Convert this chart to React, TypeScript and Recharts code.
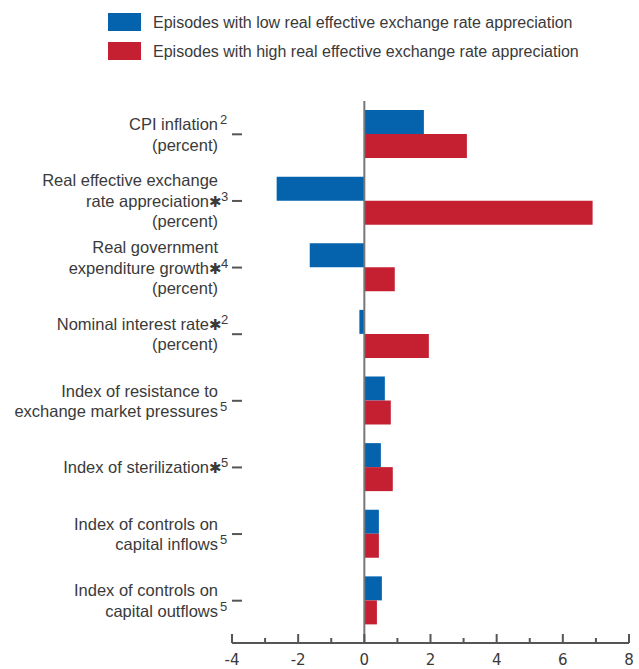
import { useEffect } from 'react';
import { BarChart, Bar, XAxis, YAxis, ReferenceLine } from 'recharts';

// category labels, split into lines as in the figure
const categoryLines = [
  ['CPI inflation', '(percent)'],
  ['Real effective exchange', 'rate appreciation', '(percent)'],
  ['Real government', 'expenditure growth', '(percent)'],
  ['Nominal interest rate', '(percent)'],
  ['Index of resistance to', 'exchange market pressures'],
  ['Index of sterilization'],
  ['Index of controls on', 'capital inflows'],
  ['Index of controls on', 'capital outflows'],
];
// which line carries the footnote marks
const markLine = [0, 1, 1, 0, 1, 0, 1, 1];
const starred = [false, true, true, true, false, true, false, false];
const footnotes = ['2', '3', '4', '2', '5', '5', '5', '5'];

const lowAppreciation = [1.8, -2.65, -1.65, -0.15, 0.62, 0.5, 0.44, 0.53];
const highAppreciation = [3.1, 6.9, 0.92, 1.95, 0.8, 0.86, 0.44, 0.38];

const seriesNames = [
  'Episodes with low real effective exchange rate appreciation',
  'Episodes with high real effective exchange rate appreciation',
];
const xTicks = [-4, -3, -2, -1, 0, 1, 2, 3, 4, 5, 6, 7, 8];

const BLUE = '#0563ae';
const RED = '#c42032';
const TEXT = '#3a3a3a';
const FONT = "'Liberation Sans', Arial, sans-serif";

const data = categoryLines.map((lines, i) => ({
  name: lines.join(' '),
  low: lowAppreciation[i],
  high: highAppreciation[i],
}));

function CategoryTick(props: any) {
  const { x, y, payload } = props;
  const i = data.findIndex((d) => d.name === payload.value);
  const lines = categoryLines[i];
  const lh = 20.5;
  const startY = y - ((lines.length - 1) * lh) / 2;
  const textEnd = x - 14;
  return (
    <g>
      <line x1={x} x2={x + 10} y1={y} y2={y} stroke="#555" strokeWidth={2} />
      {lines.map((ln, k) => {
        const ly = startY + k * lh + 6;
        const hasMark = k === markLine[i];
        const end = hasMark && starred[i] ? textEnd - 9 : textEnd;
        return (
          <g key={k}>
            <text x={end} y={ly} textAnchor="end" fontSize={16.5} fill={TEXT} fontFamily={FONT}>
              {ln}
            </text>
            {hasMark && starred[i] && (
              <text x={end} y={ly} textAnchor="start" fontSize={15} fill={TEXT} fontFamily="'DejaVu Sans', sans-serif">
                ✱
              </text>
            )}
            {hasMark && (
              <text x={starred[i] ? end + 12 : end + 2} y={ly - 6} textAnchor="start" fontSize={13} fill={TEXT} fontFamily={FONT}>
                {footnotes[i]}
              </text>
            )}
          </g>
        );
      })}
    </g>
  );
}

function ValueTick(props: any) {
  const { x, y, payload } = props;
  const v = payload.value;
  const major = v % 2 === 0;
  return (
    <g>
      <line x1={x} x2={x} y1={y} y2={y - (major ? 9 : 5)} stroke="#555" strokeWidth={2} />
      {major && (
        <text x={x} y={y + 22} textAnchor="middle" fontSize={15} fill={TEXT} fontFamily="'DejaVu Sans', sans-serif">
          {v}
        </text>
      )}
    </g>
  );
}

function LegendBox() {
  return (
    <svg width={639} height={70} style={{ position: 'absolute', top: 0, left: 0 }}>
      {[BLUE, RED].map((c, i) => (
        <g key={i}>
          <rect x={108} y={13 + i * 29} width={33} height={18} fill={c} />
          <text x={153} y={28 + i * 29} fontSize={16} fill={TEXT} fontFamily={FONT}>
            {seriesNames[i]}
          </text>
        </g>
      ))}
    </svg>
  );
}

export default function App() {
  useEffect(() => {
    document.body.style.margin = '0';
  }, []);
  return (
    <div style={{ position: 'relative', width: 639, height: 669, background: '#fff' }}>
      <BarChart
        width={639}
        height={669}
        data={data}
        layout="vertical"
        margin={{ top: 101, right: 10, bottom: 0, left: 0 }}
        barSize={24}
        barGap={0}
      >
        <XAxis
          type="number"
          domain={[-4, 8]}
          ticks={xTicks}
          interval={0}
          height={26}
          tickSize={0}
          tickMargin={0}
          tickLine={false}
          axisLine={{ stroke: '#555', strokeWidth: 2 }}
          tick={<ValueTick />}
        />
        <YAxis
          type="category"
          dataKey="name"
          width={232}
          tickSize={0}
          tickMargin={0}
          tickLine={false}
          axisLine={false}
          interval={0}
          padding={{ top: 0, bottom: 9 }}
          tick={<CategoryTick />}
        />
        <Bar dataKey="low" name={seriesNames[0]} fill={BLUE} isAnimationActive={false} />
        <Bar dataKey="high" name={seriesNames[1]} fill={RED} isAnimationActive={false} />
        <ReferenceLine x={0} stroke="#777" strokeWidth={2} />
      </BarChart>
      <LegendBox />
    </div>
  );
}
